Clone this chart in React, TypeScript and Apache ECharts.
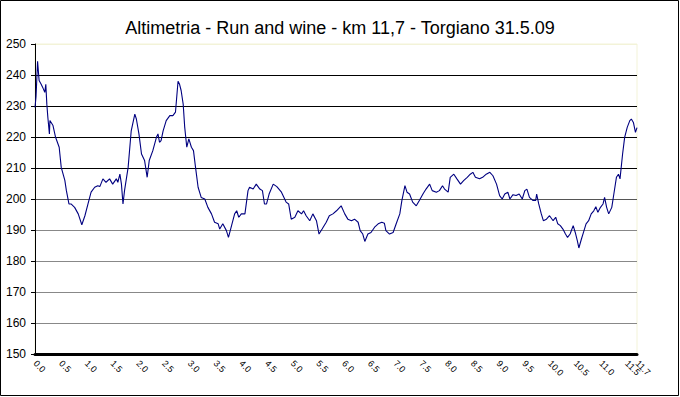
import React, { useEffect, useRef } from "react";
import * as echarts from "echarts";

const titleText = "Altimetria - Run and wine - km 11,7 - Torgiano 31.5.09";

const distanceKm = [
  0.0, 0.02, 0.05, 0.08, 0.12, 0.15, 0.19, 0.21, 0.23, 0.25, 0.28, 0.29, 0.35, 0.4, 0.47, 0.51, 0.58, 0.61, 0.66, 0.7,
  0.77, 0.84, 0.91, 0.97, 1.03, 1.09, 1.16, 1.22, 1.26, 1.32, 1.38, 1.45, 1.51, 1.58, 1.61, 1.65, 1.68, 1.71, 1.74, 1.81,
  1.87, 1.94, 1.97, 2.02, 2.07, 2.13, 2.18, 2.22, 2.29, 2.36, 2.39, 2.42, 2.45, 2.49, 2.55, 2.62, 2.68, 2.73, 2.78, 2.81,
  2.84, 2.88, 2.91, 2.95, 2.99, 3.04, 3.08, 3.12, 3.17, 3.23, 3.3, 3.36, 3.43, 3.49, 3.56, 3.59, 3.65, 3.72, 3.76, 3.82,
  3.88, 3.92, 3.96, 4.01, 4.08, 4.14, 4.17, 4.24, 4.3, 4.37, 4.42, 4.46, 4.5, 4.55, 4.63, 4.7, 4.79, 4.88, 4.93, 4.98,
  5.05, 5.11, 5.18, 5.22, 5.27, 5.34, 5.4, 5.47, 5.52, 5.58, 5.66, 5.72, 5.79, 5.86, 5.95, 6.02, 6.08, 6.15, 6.21, 6.28,
  6.32, 6.37, 6.41, 6.47, 6.53, 6.6, 6.67, 6.74, 6.79, 6.82, 6.89, 6.96, 7.02, 7.09, 7.13, 7.19, 7.23, 7.28, 7.34, 7.41,
  7.47, 7.54, 7.6, 7.67, 7.72, 7.8, 7.86, 7.92, 7.96, 8.03, 8.07, 8.14, 8.2, 8.27, 8.33, 8.4, 8.46, 8.51, 8.56, 8.64,
  8.7, 8.77, 8.84, 8.9, 8.97, 9.03, 9.08, 9.13, 9.19, 9.23, 9.29, 9.35, 9.41, 9.47, 9.52, 9.56, 9.61, 9.68, 9.73, 9.75,
  9.79, 9.84, 9.88, 9.94, 10.0, 10.07, 10.12, 10.16, 10.21, 10.26, 10.31, 10.35, 10.4, 10.46, 10.5, 10.54, 10.57, 10.62, 10.67, 10.71,
  10.76, 10.81, 10.86, 10.9, 10.94, 10.99, 11.04, 11.07, 11.11, 11.15, 11.21, 11.25, 11.3, 11.34, 11.37, 11.42, 11.46, 11.51, 11.56, 11.59,
  11.63, 11.67, 11.7,
];

const elevation = [
  229.5, 233, 244.4, 238.2, 237, 236, 234.4, 237, 230.6, 226.3, 221, 225.3, 223.7, 219.9, 216.7, 210.2, 206, 202.7, 198.4, 198.4,
  197.3, 195.2, 191.7, 194.6, 198.4, 202.2, 203.8, 204.3, 204, 206.5, 205.4, 206.5, 204.8, 206.5, 205.4, 208, 204.8, 198.4, 202.7, 210.2,
  222, 227.4, 225.8, 221, 214.5, 212.4, 207, 212.4, 215.6, 219.9, 221, 218.3, 218.8, 222, 225.3, 226.9, 226.9, 228, 238, 237,
  235, 230.6, 223.1, 216.7, 219.4, 216.7, 215.6, 210.2, 203.8, 200.5, 200, 197.3, 195.2, 192.5, 192, 190.3, 192, 189.8, 187.6, 191.4,
  195.2, 196.2, 194.1, 195.2, 195.2, 202.7, 203.8, 203.2, 204.8, 203.2, 202.7, 198.4, 198.4, 201.6, 204.8, 204, 202.2, 199, 198.4, 193.5,
  194.1, 196.2, 195.2, 196.2, 194.6, 193, 195.2, 193, 188.7, 190.3, 192.5, 194.6, 195.2, 196.2, 197.8, 195.2, 193.5, 193, 193.5, 192.5,
  189.8, 188.7, 186.3, 188.7, 189.2, 190.9, 192, 192.5, 192.2, 189.8, 188.7, 189.2, 192, 195.2, 199.5, 204.3, 202.2, 201.6, 199, 197.8,
  199.5, 201.6, 203.2, 204.8, 202.7, 202.2, 202.7, 204.3, 203.2, 202.2, 207, 208, 206.5, 204.8, 205.9, 207, 208, 208.6, 207, 206.5,
  207, 208, 208.6, 207.5, 204.8, 201.1, 200, 201.6, 202.2, 200, 201.4, 201.1, 201.6, 200, 202.7, 203.2, 200.5, 199.5, 199.5, 201.6,
  198.4, 195.2, 193, 193.5, 194.6, 193, 194.1, 192, 191.4, 190.3, 188.7, 187.6, 188.7, 191.4, 189.2, 186.6, 184.2, 187.1, 189.8, 192,
  193, 195.2, 196.2, 197.5, 195.7, 197.3, 198.4, 200.5, 197.3, 195.2, 197.3, 201.6, 207, 208, 206.5, 214.5, 219.9, 223.1, 225.3, 225.8,
  224.7, 221.5, 223,
];

const yMin = 150;
const yMax = 250;
const yStep = 10;
const xMin = 0;
const xMax = 11.7;
const xStep = 0.5;

export default function App() {
  const ref = useRef<HTMLDivElement>(null);

  useEffect(() => {
    if (!ref.current) return;
    const chart = echarts.init(ref.current, undefined, { renderer: "svg" });
    const data = distanceKm.map((d, i) => [d, elevation[i]]);
    const font = "'Liberation Sans', Arial, sans-serif";
    const xLabelBase = {
      rotate: -45,
      fontSize: 9,
      fontFamily: font,
      color: "#000",
      margin: 8,
    };
    chart.setOption({
      animation: false,
      backgroundColor: "#ffffff",
      title: {
        text: titleText,
        left: "center",
        top: 14,
        textStyle: { fontFamily: font, fontSize: 18, fontWeight: "normal", color: "#000" },
      },
      grid: {
        left: 35,
        right: 43,
        top: 44,
        bottom: 43,
        show: true,
        borderColor: "#f3f3d8",
        borderWidth: 1,
        backgroundColor: "#ffffff",
      },
      xAxis: [
        {
          type: "value",
          min: xMin,
          max: xMax,
          interval: xStep,
          position: "bottom",
          axisLine: { show: true, lineStyle: { color: "#000", width: 3 } },
          axisTick: { show: false },
          splitLine: { show: false },
          axisLabel: {
            ...xLabelBase,
            showMaxLabel: false,
            showMinLabel: true,
            formatter: (v: number) => v.toFixed(1),
          },
        },
        {
          type: "value",
          min: xMin,
          max: xMax,
          interval: xStep,
          position: "bottom",
          offset: 0,
          axisLine: { show: false },
          axisTick: { show: false },
          splitLine: { show: false },
          axisLabel: {
            ...xLabelBase,
            showMaxLabel: true,
            showMinLabel: false,
            formatter: (v: number) => (Math.abs(v - xMax) < 1e-6 ? v.toFixed(1) : ""),
          },
        },
      ],
      yAxis: {
        type: "value",
        min: yMin,
        max: yMax,
        interval: yStep,
        axisLine: { show: true, lineStyle: { color: "#000", width: 1 } },
        axisTick: { show: true, length: 4, lineStyle: { color: "#000" } },
        axisLabel: { fontSize: 12, fontFamily: font, color: "#000", margin: 9 },
        splitLine: {
          show: true,
          lineStyle: {
            color: ["#000", "#888", "#888", "#888", "#888", "#555", "#000", "#000", "#000", "#000", "#f3f3d8"],
            width: 1,
          },
        },
      },
      series: [
        {
          type: "line",
          data,
          xAxisIndex: 0,
          showSymbol: false,
          symbol: "none",
          lineStyle: { color: "#000080", width: 1.1 },
        },
      ],
      graphic: [
        {
          type: "rect",
          shape: { x: 0.5, y: 0.5, width: 678, height: 395 },
          style: { fill: "none", stroke: "#000", lineWidth: 1 },
          silent: true,
        },
      ],
    });
    return () => chart.dispose();
  }, []);

  return (
    <div
      ref={ref}
      style={{ position: "absolute", left: 0, top: 0, width: 680, height: 397 }}
    />
  );
}
